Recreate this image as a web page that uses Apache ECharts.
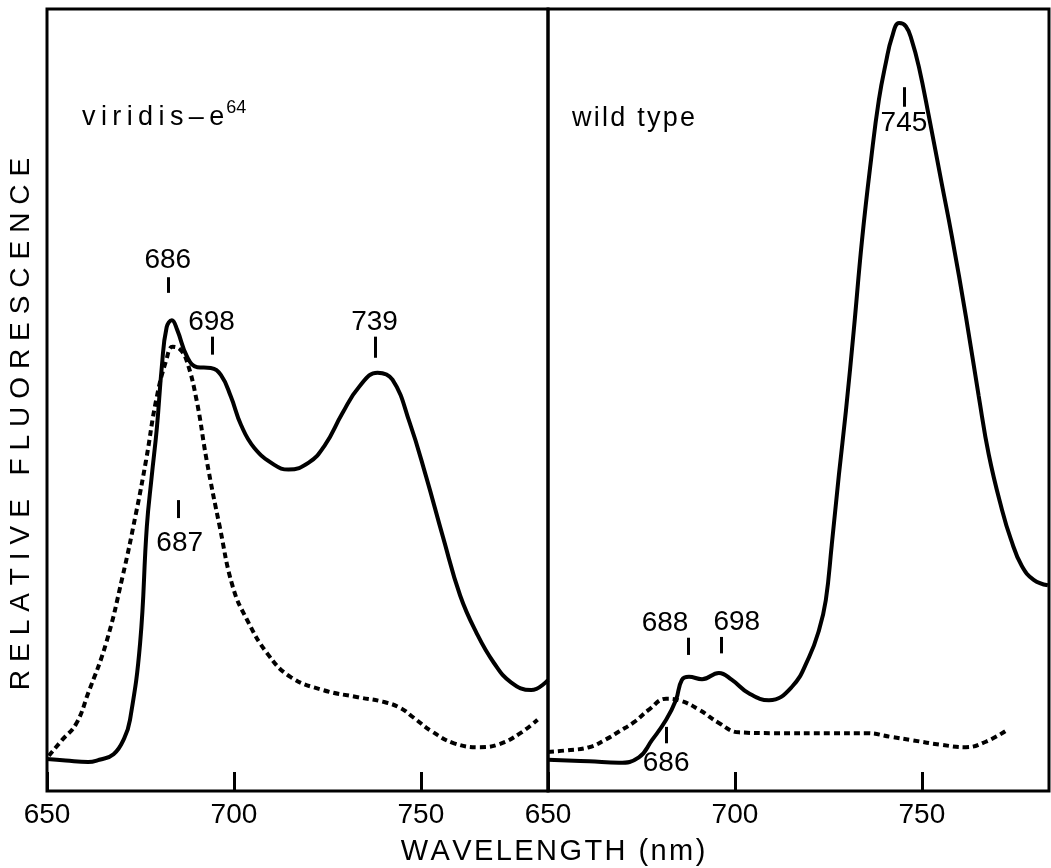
<!DOCTYPE html>
<html><head><meta charset="utf-8">
<script src="https://cdn.jsdelivr.net/npm/echarts@6/dist/echarts.min.js"></script>
<style>html,body{margin:0;padding:0;background:#fff}#c{width:1051px;height:868px}</style>
</head><body><div id="c"></div>
<script>
// ---- data ----
const xTicks = [650, 700, 750];
const xMin = 650, xMax = 784;

// viridis-e64 (left panel)
const viridisSolidNm  = [650, 655, 661, 664, 667.8, 670.7, 672.2, 674.9, 676.7, 678, 679.4, 680.7, 682, 683.4, 684.8, 687.5, 690.2, 693.8, 696.5, 699.2, 701.9, 705.4, 710.8, 714.6, 720, 724.3, 729, 733.5, 738.4, 742.4, 747, 751.4, 755.9, 760.5, 764.9, 769.5, 774.1, 779.5, 784];
const viridisSolidVal = [4.1, 3.9, 3.7, 4.0, 4.7, 6.8, 9.1, 18.9, 33.8, 40.2, 46.5, 54.2, 59.3, 60.2, 59.0, 55.5, 54.2, 54.1, 53.2, 50.4, 46.8, 43.9, 41.7, 41.1, 42.0, 44.2, 48.3, 51.7, 53.5, 52.6, 47.1, 40.2, 32.5, 25.0, 20.2, 16.4, 13.9, 12.9, 14.2];
const viridisDotNm  = [650.5, 654, 657.8, 661, 665.8, 670.2, 673.8, 676.5, 679.2, 681.9, 683.6, 685.5, 687.3, 690, 692.7, 696.2, 699.7, 703.5, 708.9, 715.1, 723.9, 733.1, 740, 744.6, 748, 753, 758.9, 765.9, 771, 776.3, 781.2];
const viridisDotVal = [4.5, 6.5, 8.6, 12.5, 18.9, 27.4, 35.5, 42.3, 50.0, 55.1, 56.8, 56.5, 55.1, 50.0, 42.3, 33.8, 26.1, 21.9, 17.6, 14.6, 12.9, 12.0, 11.4, 10.6, 9.4, 7.6, 6.1, 5.6, 6.0, 7.3, 9.1];

// wild type (right panel)
const wildSolidNm  = [650, 661, 669, 674.3, 677.8, 681.6, 684.2, 685.8, 687.7, 691.2, 695.7, 699.2, 703.7, 709.1, 715.2, 719.8, 722.5, 724.3, 725.9, 727.8, 729.7, 731.8, 734.0, 736.4, 738.5, 740.4, 742.0, 743.9, 745.7, 747.3, 749.2, 751.9, 755.3, 758.0, 761.8, 765.2, 767.9, 771.4, 773.8, 776.7, 779.9, 783.7];
const wildSolidVal = [4.0, 3.8, 3.6, 4.3, 6.5, 9.1, 11.6, 14.2, 14.6, 14.3, 15.1, 14.2, 12.5, 11.6, 13.3, 17.1, 20.6, 24.4, 31.5, 40.4, 48.7, 59.0, 70.5, 80.7, 88.4, 93.2, 96.4, 98.2, 97.8, 96.0, 92.6, 86.2, 77.7, 71.0, 60.6, 50.5, 43.0, 36.0, 32.2, 28.8, 27.0, 26.3];
const wildDotNm  = [650, 655, 661, 665.5, 669, 673, 677, 681.6, 685, 690.4, 695.7, 701.1, 709.9, 725.9, 735, 742, 747.3, 755.3, 761.8, 767.1, 772.5];
const wildDotVal = [5.0, 5.2, 5.6, 6.6, 7.6, 8.8, 10.4, 11.8, 11.6, 10.4, 8.7, 7.5, 7.4, 7.4, 7.4, 6.9, 6.5, 5.9, 5.6, 6.3, 7.7];

// peak annotations
const viridisAnnText     = ['686', '698', '739', '687'];
const viridisAnnNm       = [682.3, 694.1, 737.9, 685.0];
const viridisAnnTickLo   = [63.7, 55.8, 55.4, 34.9];
const viridisAnnTickHi   = [65.7, 58.1, 58.1, 37.2];
const viridisAnnLabelNm  = [682.3, 694.0, 737.6, 685.5];
const viridisAnnLabelVal = [67.9, 60.0, 60.0, 31.7];

const wildAnnText     = ['745', '688', '698', '686'];
const wildAnnNm       = [745.2, 687.4, 696.3, 681.6];
const wildAnnTickLo   = [87.5, 17.4, 17.6, 6.1];
const wildAnnTickHi   = [90.0, 19.6, 19.7, 8.2];
const wildAnnLabelNm  = [745.2, 681.3, 700.5, 681.6];
const wildAnnLabelVal = [85.4, 21.5, 21.6, 3.6];

const panelTitles = ['viridis\u2013e', '64', 'wild type'];
const yName = 'RELATIVE FLUORESCENCE';
const xName = 'WAVELENGTH (nm)';

// ---- chart ----
const FONT = '"Liberation Sans", Arial, Helvetica, sans-serif';
const spaced = (s, sp) => s.split('').join(sp);
const pairs = (xs, ys) => xs.map((x, i) => [x, ys[i]]);

function xAxisFor(gi) {
  return {
    type: 'value', gridIndex: gi, min: xMin, max: xMax, interval: 50,
    axisLine: { show: false },
    axisTick: { show: true, inside: true, length: 19, lineStyle: { color: '#000', width: 3 } },
    axisLabel: { show: true, showMaxLabel: false, margin: 10, color: '#000', fontSize: 28, fontFamily: FONT,
      formatter: v => (xTicks.indexOf(v) >= 0 ? String(v) : '') },
    splitLine: { show: false }
  };
}
function yAxisFor(gi) {
  return { type: 'value', gridIndex: gi, min: 0, max: 100, show: false, splitLine: { show: false } };
}
function curve(gi, data, dotted) {
  return {
    type: 'line', xAxisIndex: gi, yAxisIndex: gi, data: data, smooth: 0.45, symbol: 'none',
    lineStyle: dotted ? { color: '#000', width: 4, type: [6, 4], cap: 'butt' } : { color: '#000', width: 4 },
    silent: true, z: 3
  };
}
function ticks(gi, nm, lo, hi) {
  return {
    type: 'line', xAxisIndex: gi, yAxisIndex: gi, data: [], silent: true,
    markLine: {
      silent: true, symbol: ['none', 'none'], label: { show: false },
      lineStyle: { color: '#000', width: 3, type: 'solid', opacity: 1 },
      emphasis: { disabled: true },
      data: nm.map((x, i) => [{ coord: [x, lo[i]] }, { coord: [x, hi[i]] }])
    }
  };
}
function labels(gi, nm, val, txt) {
  return {
    type: 'scatter', xAxisIndex: gi, yAxisIndex: gi, symbolSize: 0, silent: true,
    itemStyle: { color: '#000', opacity: 1 },
    data: nm.map((x, i) => [x, val[i], txt[i]]),
    label: { show: true, position: 'inside', color: '#000', textBorderWidth: 0, textBorderColor: 'transparent',
      fontSize: 28, fontFamily: FONT, formatter: p => p.value[2] },
    z: 5
  };
}

const chart = echarts.init(document.getElementById('c'), null, { renderer: 'canvas' });
chart.setOption({
  backgroundColor: '#fff',
  animation: false,
  grid: [
    { left: 47, top: 9, width: 501, height: 782, show: true, borderColor: '#000', borderWidth: 3, backgroundColor: 'transparent' },
    { left: 548, top: 9, width: 501, height: 782, show: true, borderColor: '#000', borderWidth: 3, backgroundColor: 'transparent' }
  ],
  xAxis: [xAxisFor(0), xAxisFor(1)],
  yAxis: [yAxisFor(0), yAxisFor(1)],
  series: [
    curve(0, pairs(viridisSolidNm, viridisSolidVal), false),
    curve(0, pairs(viridisDotNm, viridisDotVal), true),
    curve(1, pairs(wildSolidNm, wildSolidVal), false),
    curve(1, pairs(wildDotNm, wildDotVal), true),
    ticks(0, viridisAnnNm, viridisAnnTickLo, viridisAnnTickHi),
    ticks(1, wildAnnNm, wildAnnTickLo, wildAnnTickHi),
    labels(0, viridisAnnLabelNm, viridisAnnLabelVal, viridisAnnText),
    labels(1, wildAnnLabelNm, wildAnnLabelVal, wildAnnText)
  ],
  graphic: [
    { type: 'text', left: 82, top: 99, z: 10, silent: true,
      style: { text: '{a|' + spaced(panelTitles[0], '\u2009') + '}{s|' + panelTitles[1] + '}',
        fill: '#000', font: '27px ' + FONT,
        rich: { a: { fontSize: 27, fontFamily: FONT, verticalAlign: 'bottom', lineHeight: 36 },
                s: { fontSize: 18, fontFamily: FONT, verticalAlign: 'bottom', lineHeight: 36, padding: [0, 0, 14, 2] } } } },
    { type: 'text', left: 572, top: 105, z: 10, silent: true,
      style: { text: spaced(panelTitles[2], '\u200A'), fill: '#000', font: '27px ' + FONT } },
    { type: 'text', x: 21, y: 424, rotation: Math.PI / 2, z: 10, silent: true,
      style: { text: spaced(yName, '\u2009\u200A'), fill: '#000', font: '28px ' + FONT, align: 'center', verticalAlign: 'middle' } },
    { type: 'text', x: 553, y: 852, z: 10, silent: true,
      style: { text: spaced(xName, '\u200A'), fill: '#000', font: '29px ' + FONT, align: 'center', verticalAlign: 'middle' } }
  ]
});
</script>
</body></html>
